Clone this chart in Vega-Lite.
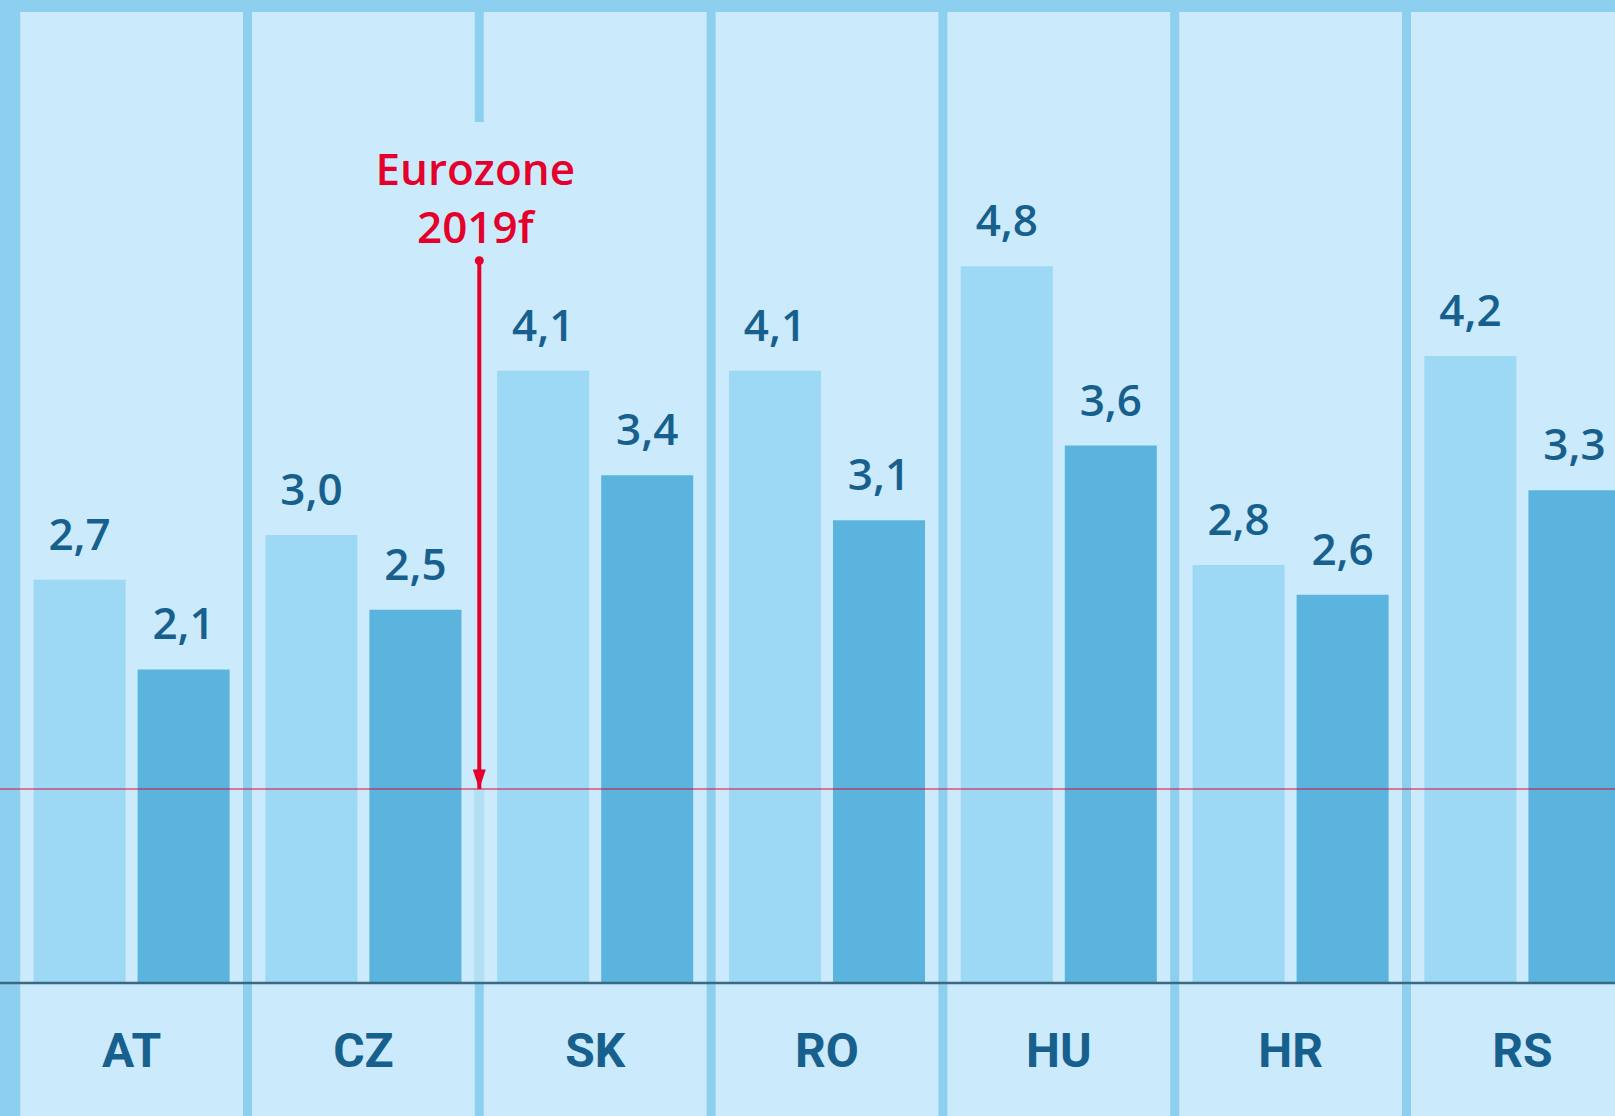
{
  "$schema": "https://vega.github.io/schema/vega-lite/v6.json",
  "width": 1615,
  "height": 1116,
  "padding": 0,
  "autosize": {"type": "none"},
  "background": "#8dcfee",
  "config": {
    "view": {"stroke": null},
    "locale": {"number": {"decimal": ",", "thousands": ".", "grouping": [3], "currency": ["", " €"]}}
  },
  "datasets": {
    "growth": [
      {"country": "AT", "series": "2018", "value": 2.7},
      {"country": "AT", "series": "2019f", "value": 2.1},
      {"country": "CZ", "series": "2018", "value": 3.0},
      {"country": "CZ", "series": "2019f", "value": 2.5},
      {"country": "SK", "series": "2018", "value": 4.1},
      {"country": "SK", "series": "2019f", "value": 3.4},
      {"country": "RO", "series": "2018", "value": 4.1},
      {"country": "RO", "series": "2019f", "value": 3.1},
      {"country": "HU", "series": "2018", "value": 4.8},
      {"country": "HU", "series": "2019f", "value": 3.6},
      {"country": "HR", "series": "2018", "value": 2.8},
      {"country": "HR", "series": "2019f", "value": 2.6},
      {"country": "RS", "series": "2018", "value": 4.2},
      {"country": "RS", "series": "2019f", "value": 3.3}
    ],
    "countries": [
      {"country": "AT"}, {"country": "CZ"}, {"country": "SK"}, {"country": "RO"},
      {"country": "HU"}, {"country": "HR"}, {"country": "RS"}
    ],
    "euro": [{"country": "SK", "label": "Eurozone 2019f", "value": 1.3}]
  },
  "layer": [
    {
      "data": {"name": "countries"},
      "mark": {"type": "bar", "color": "#cbeafb", "width": {"band": 0.9612}, "clip": true},
      "encoding": {
        "x": {"field": "country", "type": "nominal", "sort": null, "scale": {"domain": ["AT","CZ","SK","RO","HU","HR","RS"], "range": [15.7, 1638.3], "paddingInner": 0, "paddingOuter": 0}, "axis": null},
        "y": {"datum": 6.504, "type": "quantitative", "scale": {"domain": [-0.891, 6.584], "nice": false, "zero": false}, "axis": null},
        "y2": {"datum": -0.891}
      }
    },
    {
      "data": {"name": "euro"},
      "mark": {"type": "rule", "color": "#cbeafb", "strokeWidth": 10, "clip": true},
      "encoding": {
        "x": {"field": "country", "type": "nominal", "bandPosition": 0, "axis": null},
        "y": {"field": "value", "type": "quantitative"},
        "y2": {"datum": 5.767}
      }
    },
    {
      "data": {"name": "euro"},
      "mark": {"type": "rule", "color": "#b3dff5", "strokeWidth": 10, "clip": true},
      "encoding": {
        "x": {"field": "country", "type": "nominal", "bandPosition": 0, "axis": null},
        "y": {"field": "value", "type": "quantitative"},
        "y2": {"datum": 0}
      }
    },
    {
      "data": {"name": "growth"},
      "mark": {"type": "bar", "clip": true},
      "encoding": {
        "x": {"field": "country", "type": "nominal", "axis": null},
        "xOffset": {"field": "series", "type": "nominal", "scale": {"paddingInner": 0.1154, "paddingOuter": 0.172}},
        "y": {"field": "value", "type": "quantitative"},
        "y2": {"datum": 0},
        "color": {"field": "series", "type": "nominal", "scale": {"domain": ["2018", "2019f"], "range": ["#9dd8f5", "#5bb4de"]}, "legend": null}
      }
    },
    {
      "data": {"name": "euro"},
      "mark": {"type": "rule", "color": "#e4002b", "strokeWidth": 1.5, "opacity": 0.65, "clip": true},
      "encoding": {
        "y": {"field": "value", "type": "quantitative"}
      }
    },
    {
      "data": {"name": "euro"},
      "mark": {"type": "rule", "color": "#3b6883", "strokeWidth": 2.5, "clip": true},
      "encoding": {
        "y": {"datum": 0, "type": "quantitative"}
      }
    },
    {
      "data": {"name": "growth"},
      "mark": {"type": "text", "font": "Open Sans", "fontSize": 44, "fontWeight": 600, "color": "#17608e", "baseline": "alphabetic", "align": "center", "dy": -30, "clip": true},
      "encoding": {
        "x": {"field": "country", "type": "nominal", "axis": null},
        "xOffset": {"field": "series", "type": "nominal"},
        "y": {"field": "value", "type": "quantitative"},
        "text": {"field": "value", "type": "quantitative", "format": ".1f"}
      }
    },
    {
      "data": {"name": "countries"},
      "mark": {"type": "text", "font": "Roboto", "fontSize": 48, "fontWeight": "bold", "color": "#17608e", "baseline": "alphabetic", "align": "center", "clip": true},
      "encoding": {
        "x": {"field": "country", "type": "nominal", "axis": null},
        "y": {"datum": -0.563, "type": "quantitative"},
        "text": {"field": "country", "type": "nominal"}
      }
    },
    {
      "data": {"name": "euro"},
      "mark": {"type": "rule", "color": "#e4002b", "strokeWidth": 4, "clip": true},
      "encoding": {
        "x": {"field": "country", "type": "nominal", "bandPosition": 0, "axis": null},
        "y": {"field": "value", "type": "quantitative"},
        "y2": {"datum": 4.838}
      }
    },
    {
      "data": {"name": "euro"},
      "mark": {"type": "point", "shape": "M-0.5,-1.5L0.5,-1.5L0,0Z", "size": 676, "filled": true, "color": "#e4002b", "opacity": 1, "clip": true},
      "encoding": {
        "x": {"field": "country", "type": "nominal", "bandPosition": 0, "axis": null},
        "y": {"field": "value", "type": "quantitative"}
      }
    },
    {
      "data": {"name": "euro"},
      "mark": {"type": "point", "shape": "circle", "size": 81, "filled": true, "color": "#e4002b", "opacity": 1, "clip": true},
      "encoding": {
        "x": {"field": "country", "type": "nominal", "bandPosition": 0, "axis": null},
        "y": {"datum": 4.838, "type": "quantitative"}
      }
    },
    {
      "data": {"name": "euro"},
      "mark": {"type": "text", "font": "Open Sans", "fontSize": 44, "fontWeight": 600, "color": "#e4002b", "baseline": "alphabetic", "align": "center", "dx": -4, "lineHeight": 58, "clip": true},
      "encoding": {
        "x": {"field": "country", "type": "nominal", "bandPosition": 0, "axis": null},
        "y": {"datum": 5.345, "type": "quantitative"},
        "text": {"value": ["Eurozone", "2019f"]}
      }
    }
  ]
}
